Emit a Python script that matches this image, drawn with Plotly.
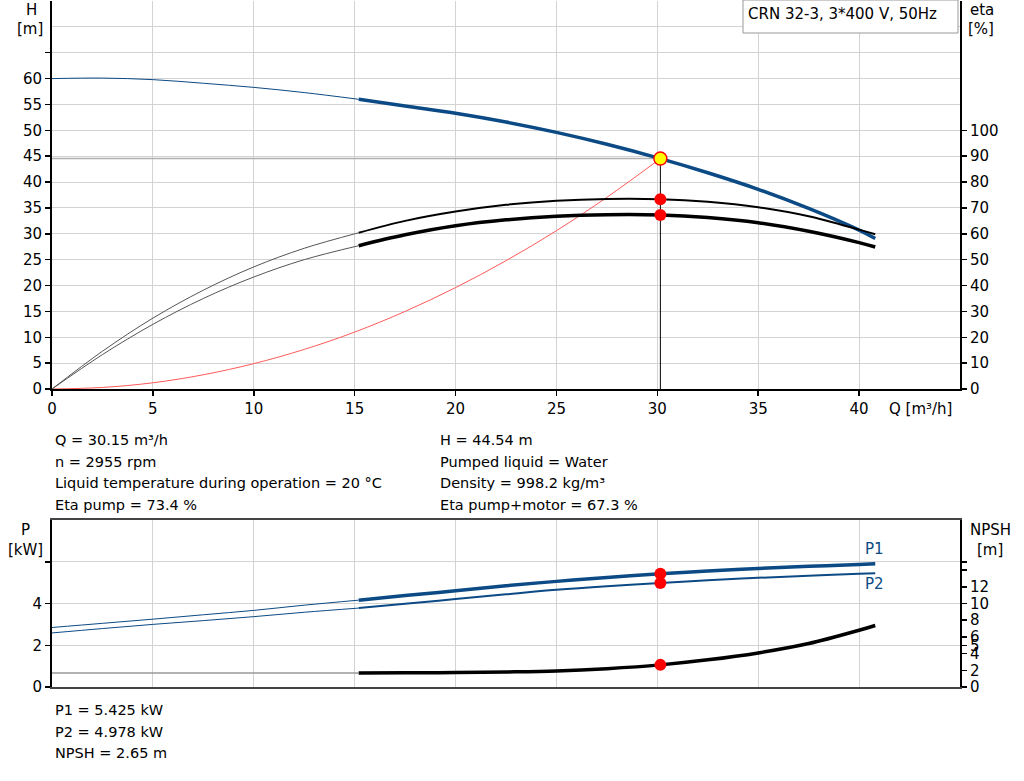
import plotly.graph_objects as go

# pump curve data
q = [0, 2.5, 5, 7.5, 10, 12.5, 15.2, 17.5, 20, 22.5, 25, 27.5, 30.15, 32.5, 35, 37.5, 40, 40.8]
head = [60.0, 60.1, 59.8, 59.1, 58.3, 57.3, 56.0, 54.7, 53.3, 51.6, 49.6, 47.3, 44.54, 41.8, 38.6, 34.9, 30.7, 29.1]
eta_pump = [0, 14.6, 27.4, 38.2, 47.2, 54.4, 60.4, 65.0, 68.6, 71.2, 72.8, 73.5, 73.4, 72.4, 70.3, 66.8, 61.6, 59.8]
eta_total = [0, 13.3, 25.0, 35.0, 43.3, 50.0, 55.4, 59.6, 63.1, 65.4, 66.8, 67.4, 67.3, 66.3, 64.3, 61.0, 56.6, 54.9]
p1 = [2.85, 3.05, 3.25, 3.46, 3.67, 3.92, 4.16, 4.38, 4.61, 4.85, 5.06, 5.25, 5.425, 5.56, 5.68, 5.78, 5.87, 5.90]
p2 = [2.59, 2.80, 3.00, 3.18, 3.37, 3.58, 3.78, 3.99, 4.21, 4.44, 4.66, 4.83, 4.978, 5.11, 5.23, 5.33, 5.42, 5.45]
npsh = [1.68, 1.68, 1.68, 1.68, 1.68, 1.68, 1.68, 1.70, 1.73, 1.80, 1.92, 2.20, 2.65, 3.25, 4.08, 5.20, 6.80, 7.37]

q_sys = [0, 2.5, 5, 7.5, 10, 12.5, 15, 17.5, 20, 22.5, 25, 27.5, 30.15]
h_sys = [0, 0.3, 1.2, 2.75, 4.9, 7.65, 11.0, 15.0, 19.6, 24.8, 30.6, 37.05, 44.54]

q_op = 30.15
h_op = 44.54
eta_pump_op = 73.4
eta_total_op = 67.3
p1_op = 5.425
p2_op = 4.978
npsh_op = 2.65

q_ticks = [0, 5, 10, 15, 20, 25, 30, 35, 40]
h_ticks = [0, 5, 10, 15, 20, 25, 30, 35, 40, 45, 50, 55, 60, 65]
h_labels = ["0", "5", "10", "15", "20", "25", "30", "35", "40", "45", "50", "55", "60", ""]
eta_ticks = [0, 10, 20, 30, 40, 50, 60, 70, 80, 90, 100]
p_ticks = [0, 2, 4, 6]
p_labels = ["0", "2", "4", ""]
npsh_ticks = [0, 2, 4, 5, 6, 8, 10, 12, 14, 15]
npsh_labels = ["0", "2", "4", "5", "6", "8", "10", "12", "", ""]

info_left = ["Q = 30.15 m³/h", "n = 2955 rpm",
             "Liquid temperature during operation = 20 °C", "Eta pump = 73.4 %"]
info_right = ["H = 44.54 m", "Pumped liquid = Water",
              "Density = 998.2 kg/m³", "Eta pump+motor = 67.3 %"]
info_bottom = ["P1 = 5.425 kW", "P2 = 4.978 kW", "NPSH = 2.65 m"]

BLUE = "#0b4a84"
GRID = "#d3d3d3"
W, H = 1024, 781
k = 6  # index where the thin (extrapolated) part ends


def px(x):
    return x / W


def py(y):
    return 1 - y / H


fig = go.Figure()


def curve(x, y, color, width, xa, ya):
    fig.add_trace(go.Scatter(x=x, y=y, mode="lines", line=dict(color=color, width=width, shape="spline"),
                             xaxis=xa, yaxis=ya, hoverinfo="skip"))


# top chart
fig.add_trace(go.Scatter(x=[0, q_op], y=[h_op, h_op], mode="lines", line=dict(color="#b0b0b0", width=1.5),
                         xaxis="x", yaxis="y"))
fig.add_trace(go.Scatter(x=[q_op, q_op], y=[0, h_op], mode="lines", line=dict(color="black", width=1),
                         xaxis="x", yaxis="y"))
curve(q_sys, h_sys, "#ff5a5a", 1, "x", "y")
curve(q[:k + 1], eta_pump[:k + 1], "#555555", 1, "x", "y2")
curve(q[k:], eta_pump[k:], "black", 2, "x", "y2")
curve(q[:k + 1], eta_total[:k + 1], "#555555", 1, "x", "y2")
curve(q[k:], eta_total[k:], "black", 3.5, "x", "y2")
curve(q[:k + 1], head[:k + 1], BLUE, 1, "x", "y")
curve(q[k:], head[k:], BLUE, 3.5, "x", "y")
fig.add_trace(go.Scatter(x=[q_op, q_op], y=[eta_pump_op, eta_total_op], mode="markers",
                         marker=dict(color="#ff0000", size=12), xaxis="x", yaxis="y2"))
fig.add_trace(go.Scatter(x=[q_op], y=[h_op], mode="markers",
                         marker=dict(color="#ffff00", size=13, line=dict(color="#ff0000", width=1.5)),
                         xaxis="x", yaxis="y"))

# bottom chart
curve(q[:k + 1], npsh[:k + 1], "#999999", 1.5, "x2", "y4")
curve(q[k:], npsh[k:], "black", 3.5, "x2", "y4")
curve(q[:k + 1], p2[:k + 1], BLUE, 1, "x2", "y3")
curve(q[k:], p2[k:], BLUE, 2, "x2", "y3")
curve(q[:k + 1], p1[:k + 1], BLUE, 1, "x2", "y3")
curve(q[k:], p1[k:], BLUE, 3.5, "x2", "y3")
fig.add_trace(go.Scatter(x=[q_op, q_op], y=[p1_op, p2_op], mode="markers",
                         marker=dict(color="#ff0000", size=12), xaxis="x2", yaxis="y3"))
fig.add_trace(go.Scatter(x=[q_op], y=[npsh_op], mode="markers",
                         marker=dict(color="#ff0000", size=12), xaxis="x2", yaxis="y4"))

axis_common = dict(showline=True, linecolor="black", linewidth=2, ticks="outside", ticklen=5,
                   tickcolor="black", tickwidth=1.5, zeroline=False, fixedrange=True, automargin=False)

fig.update_layout(
    width=W, height=H, margin=dict(l=0, r=0, t=0, b=0),
    paper_bgcolor="white", plot_bgcolor="white", showlegend=False,
    font=dict(family="DejaVu Sans", size=15, color="black"),
    xaxis=dict(domain=[px(52), px(960)], range=[0, 45], tickvals=q_ticks, anchor="y",
               showgrid=True, gridcolor=GRID, **axis_common),
    yaxis=dict(domain=[py(389), py(1)], range=[0, 75], tickvals=h_ticks, ticktext=h_labels, anchor="x",
               showgrid=True, gridcolor=GRID,
               minor=dict(tickvals=[70, 75], showgrid=True, gridcolor=GRID, ticks=""), **axis_common),
    yaxis2=dict(overlaying="y", side="right", anchor="x", range=[0, 150], tickvals=eta_ticks,
                showgrid=False, **axis_common),
    xaxis2=dict(domain=[px(52), px(960)], range=[0, 45], tickvals=q_ticks + [45], anchor="y3",
                showticklabels=False, showgrid=True, gridcolor=GRID, showline=True, linecolor="#444",
                linewidth=2, mirror=True, zeroline=False, automargin=False),
    yaxis3=dict(domain=[py(687), py(520)], range=[0, 8], tickvals=p_ticks, ticktext=p_labels, anchor="x2",
                showgrid=True, gridcolor=GRID, **axis_common),
    yaxis4=dict(overlaying="y3", side="right", anchor="x2", range=[0, 20], tickvals=npsh_ticks,
                ticktext=npsh_labels, showgrid=False, **axis_common),
)


def text(x, y, s, anchor="left", size=15, color="black"):
    fig.add_annotation(x=px(x), y=py(y), xref="paper", yref="paper", text=s, showarrow=False,
                       xanchor=anchor, yanchor="middle", font=dict(size=size, color=color))


# axis titles
text(31, 10, "H", "center")
text(30, 29, "[m]", "center")
text(982, 10, "eta", "center")
text(981, 29, "[%]", "center")
text(887, 409, "Q [m³/h]")
text(25, 530, "P", "center")
text(25, 550, "[kW]", "center")
text(990, 530, "NPSH", "center")
text(990, 550, "[m]", "center")
text(863, 549, "P1", color=BLUE)
text(863, 584, "P2", color=BLUE)

# title box
fig.add_shape(type="rect", xref="paper", yref="paper", x0=px(743), x1=px(958), y0=py(33), y1=py(0),
              line=dict(color="#999999", width=1), fillcolor="white", layer="above")
text(746, 14, "CRN 32-3, 3*400 V, 50Hz")

for i, s in enumerate(info_left):
    text(53, 440 + i * 21.7, s, size=14.5)
for i, s in enumerate(info_right):
    text(438, 440 + i * 21.7, s, size=14.5)
for i, s in enumerate(info_bottom):
    text(53, 710 + i * 21.7, s, size=14.5)

# drop the page's default body margin so the figure sits at the window corner
fig.write_html("out.html", config={"displayModeBar": False, "staticPlot": True},
               post_script="document.body.style.margin='0';"
                           "document.body.style.overflow='hidden';")
